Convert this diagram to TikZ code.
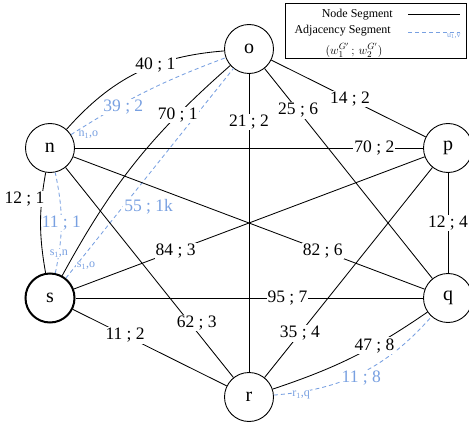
\documentclass[tikz,border=0pt]{standalone}
\usepackage{fontspec}
\setmainfont{Liberation Serif}
\definecolor{adjblue}{RGB}{120,160,225}
\begin{document}
\begin{tikzpicture}[x=1pt,y=1pt,
  vert/.style={circle,draw,line width=0.9pt,minimum size=49pt,inner sep=0pt,font=\fontsize{20}{20}\selectfont},
  seg/.style={line width=0.85pt},
  adj/.style={adjblue,line width=0.85pt,dash pattern=on 4pt off 3pt},
  lbl/.style={fill=white,inner sep=1pt,font=\fontsize{17.5}{17.5}\selectfont,text=black},
  adjl/.style={lbl,text=adjblue},
  adjs/.style={fill=white,inner sep=0.5pt,font=\fontsize{12}{12}\selectfont,text=adjblue},
  legtxt/.style={inner sep=0pt,font=\fontsize{12}{12}\selectfont},
]
\useasboundingbox (0,0) rectangle (469,424);
% vertices
\node[vert] (o) at (249,375) {o};
\node[vert] (n) at (50,276) {n};
\node[vert] (p) at (448,276) {p};
\node[vert,line width=2pt] (s) at (50,126) {s};
\node[vert] (q) at (448,126) {q};
\node[vert] (r) at (249,27) {r};
% adjacency segments
\draw[adj] (s) to[bend right=12] node[adjl,pos=0.5]{11 ; 1} node[adjs,pos=0.18]{s\textsubscript{1},n} (n);
\draw[adj] (s) -- node[adjl,pos=0.34,anchor=west]{55 ; 1k} node[adjs,pos=0.06,anchor=west]{s\textsubscript{1},o} (o);
\draw[adj] (n) to[bend left=6] node[adjl,pos=0.34,yshift=-4pt]{39 ; 2} node[adjs,pos=0.04,anchor=north west]{n\textsubscript{1},o} (o);
\draw[adj] (r) to[bend right=22] node[adjl,pos=0.5,yshift=-5pt]{11 ; 8} node[adjs,pos=0.14,yshift=-3pt]{r\textsubscript{1},q} (q);
% node segments
\draw[seg] (n) to[bend left=22] node[lbl,pos=0.62]{40 ; 1} (o);
\draw[seg] (n) to[bend right=10] node[lbl,pos=0.25,anchor=east,xshift=4pt]{12 ; 1} (s);
\draw[seg] (s) to[bend left=10] node[lbl,pos=0.75]{70 ; 1} (o);
\draw[seg] (o) -- node[lbl,pos=0.16]{21 ; 2} (r);
\draw[seg] (o) -- node[lbl,pos=0.2]{25 ; 6} (q);
\draw[seg] (o) -- node[lbl,pos=0.51]{14 ; 2} (p);
\draw[seg] (n) -- node[lbl,pos=0.86]{70 ; 2} (p);
\draw[seg] (p) -- node[lbl,pos=0.5]{12 ; 4} (q);
\draw[seg] (n) -- node[lbl,pos=0.71]{82 ; 6} (q);
\draw[seg] (s) -- node[lbl,pos=0.29]{84 ; 3} (p);
\draw[seg] (s) -- node[lbl,pos=0.61]{95 ; 7} (q);
\draw[seg] (s) -- node[lbl,pos=0.34]{11 ; 2} (r);
\draw[seg] (n) -- node[lbl,pos=0.74,xshift=7pt]{62 ; 3} (r);
\draw[seg] (p) -- node[lbl,pos=0.79]{35 ; 4} (r);
\draw[seg] (r) to[bend right=8] node[lbl,pos=0.65]{47 ; 8} (q);
% legend
\node[draw,line width=0.8pt,minimum width=181pt,minimum height=55pt,inner sep=0pt] (legend) at (375.5,393.5) {};
\node[legtxt,anchor=east] (lg1) at (393,409) {Node Segment};
\node[legtxt,anchor=east] (lg2) at (391,393) {Adjacency Segment};
\node[legtxt,font=\fontsize{13}{13}\selectfont] (lg3) at (354,374) {$(w_1^{G'}\,;\,w_2^{G'})$};
\coordinate (a1) at (408,410);
\coordinate (a2) at (460,410);
\draw[seg] (a1) -- (a2);
\coordinate (b1) at (408,392);
\coordinate (b2) at (460,392);
\draw[adj] (b1) -- node[pos=0.88,below,inner sep=1.5pt,text=adjblue,font=\fontsize{8}{8}\selectfont]{u\textsubscript{1},v} (b2);
\end{tikzpicture}
\end{document}
